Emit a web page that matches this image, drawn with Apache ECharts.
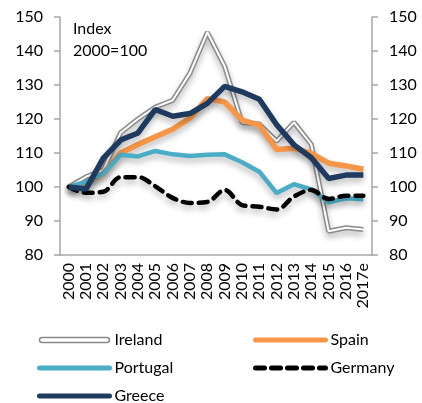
<!DOCTYPE html>
<html>
<head>
<meta charset="utf-8">
<script src="https://cdn.jsdelivr.net/npm/echarts@6/dist/echarts.min.js"></script>
<style>
  html, body { margin: 0; padding: 0; background: #fff; }
  #chart { width: 422px; height: 403px; }
</style>
</head>
<body>
<div id="chart"></div>
<script>
const years = ['2000', '2001', '2002', '2003', '2004', '2005', '2006', '2007', '2008',
  '2009', '2010', '2011', '2012', '2013', '2014', '2015', '2016', '2017e']
const ireland = [100, 103, 105, 116, 120, 123.5, 125.5, 133.5, 145.5, 135.5, 119, 118.5, 113.5, 119, 112.5, 87, 88, 87.5]
const spain = [100, 101, 104, 110, 112.5, 114.8, 117, 120.3, 126, 125, 119.7, 118.2, 111, 111.4, 109.9, 107, 106.2, 105.2]
const portugal = [100, 101.5, 104, 109.5, 109, 110.6, 109.6, 109.1, 109.5, 109.6, 107.3, 104.5, 98.2, 100.8, 99.3, 95.5, 96.7, 96.4]
const germany = [100, 98.3, 98.6, 102.9, 102.9, 100.2, 96.8, 95.3, 95.6, 99.1, 94.7, 94.2, 93.4, 97.2, 99.1, 96.5, 97.4, 97.4]
const greece = [100, 99.4, 108.5, 113.8, 115.9, 122.8, 120.8, 121.6, 124.6, 129.6, 128, 125.8, 118.3, 112.4, 108.6, 102.5, 103.5, 103.5]
const yTicks = { min: 80, max: 150, interval: 10 }

const font = 'Lato, "Noto Sans", sans-serif'
const axisGray = '#a6a6a6'
const shadow = { shadowColor: 'rgba(0,0,0,0.28)', shadowBlur: 6, shadowOffsetY: 4 }

const chart = echarts.init(document.getElementById('chart'), null, { renderer: 'canvas' })

const yAxisBase = {
  type: 'value',
  min: yTicks.min,
  max: yTicks.max,
  interval: yTicks.interval,
  axisLine: { show: true, lineStyle: { color: axisGray, width: 1.5 } },
  axisTick: { show: true, length: 6, lineStyle: { color: axisGray, width: 1.5 } },
  splitLine: { show: false },
  axisLabel: { color: '#000', fontSize: 16, fontFamily: font, margin: 17 }
}

const lineSeries = (name, data, color, width, extra) => Object.assign({
  name: name,
  type: 'line',
  data: data,
  symbol: 'none',
  lineStyle: Object.assign({ color: color, width: width }, shadow),
  itemStyle: { color: color }
}, extra || {})

// legend: line only, no marker dot, no shadow
const legendBase = {
  orient: 'vertical',
  top: 327,
  height: 80,
  itemWidth: 70,
  itemHeight: 12,
  itemGap: 12,
  textStyle: { fontSize: 16, fontFamily: font, color: '#000' },
  itemStyle: { opacity: 0 },
  lineStyle: { width: 5, shadowBlur: 0, shadowOffsetY: 0, cap: 'round' }
}

const option = {
  animation: false,
  grid: { left: 60, right: 50, top: 17, bottom: 148 },
  xAxis: {
    type: 'category',
    data: years,
    boundaryGap: true,
    axisLine: { show: true, lineStyle: { color: axisGray, width: 1.5 } },
    axisTick: { show: false },
    axisLabel: { rotate: 90, interval: 0, color: '#000', fontSize: 16, fontFamily: font, margin: 8 }
  },
  yAxis: [
    Object.assign({}, yAxisBase, { position: 'left' }),
    Object.assign({}, yAxisBase, { position: 'right' })
  ],
  legend: [
    Object.assign({}, legendBase, {
      left: 32,
      data: [
        {
          name: 'Ireland',
          icon: 'path://M2.5,0 L67.5,0 A2.5,2.5 0 0 1 67.5,5 L2.5,5 A2.5,2.5 0 0 1 2.5,0 Z',
          itemStyle: { color: '#fff', borderColor: '#8a8a8a', borderWidth: 1.5, opacity: 1 }
        },
        'Portugal',
        'Greece'
      ]
    }),
    Object.assign({}, legendBase, {
      left: 248,
      data: ['Spain', 'Germany']
    })
  ],
  graphic: [
    { type: 'text', left: 73, top: 21, style: { text: 'Index', font: '16px ' + font, fill: '#000' } },
    { type: 'text', left: 73, top: 43, style: { text: '2000=100', font: '16px ' + font, fill: '#000' } }
  ],
  series: [
    lineSeries('Ireland', ireland, '#8a8a8a', 5),
    {
      name: 'Ireland inner',
      type: 'line',
      data: ireland,
      symbol: 'none',
      silent: true,
      lineStyle: { color: '#fff', width: 2 }
    },
    lineSeries('Spain', spain, '#f79646', 5.5),
    lineSeries('Portugal', portugal, '#4bacc6', 4.5),
    lineSeries('Germany', germany, '#000', 4.5, {
      smooth: 0.35,
      lineStyle: Object.assign({ color: '#000', width: 4.5, type: [9, 7], cap: 'round' }, shadow)
    }),
    lineSeries('Greece', greece, '#1f3a5f', 5.5)
  ]
}

chart.setOption(option)
window.addEventListener('resize', () => chart.resize())
</script>
</body>
</html>
